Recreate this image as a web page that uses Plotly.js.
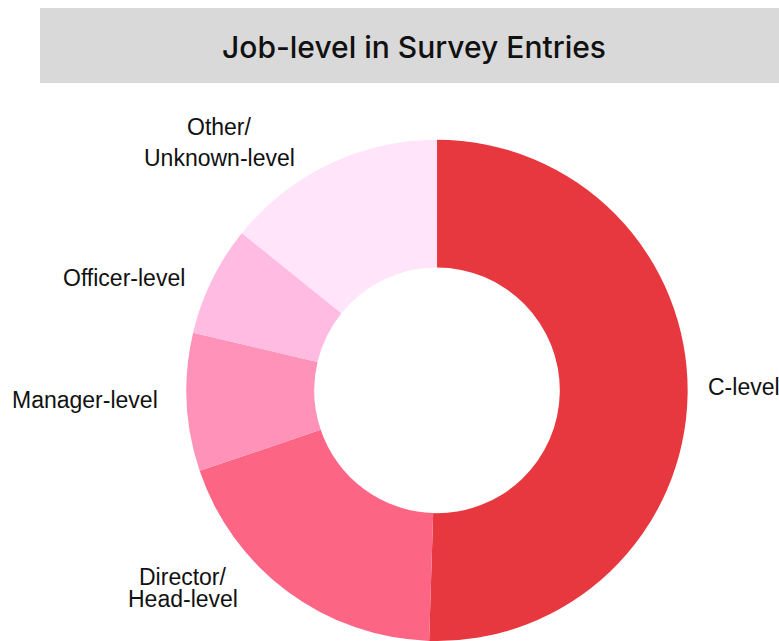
<!DOCTYPE html>
<html>
<head>
<meta charset="utf-8">
<script src="https://cdn.plot.ly/plotly-3.0.1.min.js"></script>
<style>html,body{margin:0;padding:0;background:#fff}#chart{width:779px;height:641px}</style>
</head>
<body>
<div id="chart"></div>
<script>
const chartTitle = "Job-level in Survey Entries";
const categories = ["C-level", "Director/<br>Head-level", "Manager-level", "Officer-level", "Other/<br>Unknown-level"];
const shares = [50.5, 19.3, 8.9, 7.1, 14.2];
const sliceColors = ["#E8383F", "#FD6584", "#FF92B8", "#FFBBE2", "#FFE4FA"];

const W = 779, H = 641;
// label layout (pixel placement of each label line: x, anchor, y centres per line)
const labelPlacement = [
  {x: 706, anchor: "left", ys: [387]},
  {x: 183, anchor: "center", ys: [577, 599]},
  {x: 85, anchor: "center", ys: [400]},
  {x: 124, anchor: "center", ys: [278]},
  {x: 220, anchor: "center", ys: [127, 158]}
];

const annotations = [];
categories.forEach((cat, i) => {
  const lines = cat.split("<br>");
  const p = labelPlacement[i];
  lines.forEach((line, j) => {
    annotations.push({
      text: line, showarrow: false, xref: "paper", yref: "paper",
      x: p.x / W, y: 1 - p.ys[j] / H, xanchor: p.anchor, yanchor: "middle",
      font: {family: "Liberation Sans, Arial, sans-serif", size: 23, color: "#111"}
    });
  });
});

const trace = {
  type: "pie",
  labels: categories,
  values: shares,
  sort: false,
  direction: "clockwise",
  rotation: 0,
  hole: 0.49,
  marker: {colors: sliceColors, line: {width: 0}},
  textinfo: "none",
  domain: {x: [0.2, 0.922], y: [0, 0.782]},
  showlegend: false,
  hoverinfo: "label+percent"
};

const layout = {
  width: W, height: H,
  margin: {l: 0, r: 0, t: 0, b: 0},
  paper_bgcolor: "#fff",
  showlegend: false,
  annotations: annotations,
  shapes: [{type: "rect", xref: "paper", yref: "paper", x0: 40/W, x1: 1, y0: 1 - 83/H, y1: 1 - 8/H, fillcolor: "#D9D9D9", line: {width: 0}, layer: "below"}],
  title: {text: chartTitle, x: 414/W, xanchor: "center", y: 1 - 47/H, yanchor: "middle", font: {family: "Inter, Lato, sans-serif", size: 30, weight: 500, color: "#111"}}
};

Plotly.newPlot("chart", [trace], layout, {displayModeBar: false, staticPlot: true});
</script>
</body>
</html>
